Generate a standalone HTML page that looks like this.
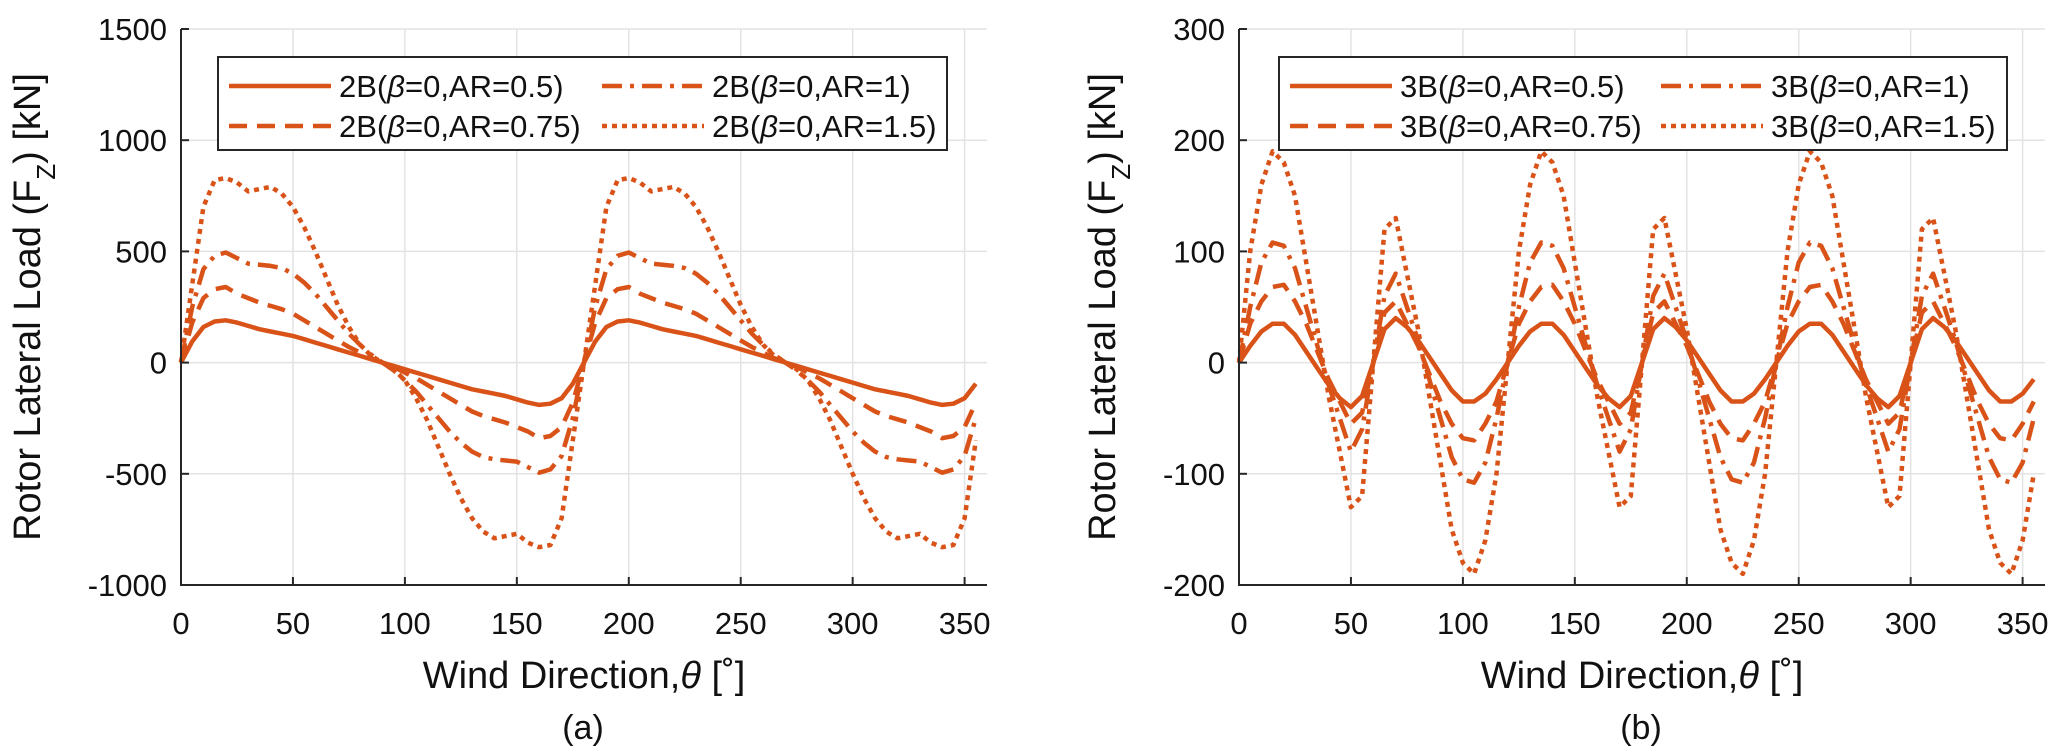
<!DOCTYPE html>
<html><head><meta charset="utf-8"><style>
html,body{margin:0;padding:0;background:#fff}
svg{display:block;font-family:"Liberation Sans",Arial,sans-serif}
</style></head><body>
<svg id="fig" width="2067" height="756" viewBox="0 0 2067 756" xmlns="http://www.w3.org/2000/svg"></svg>
<script>
const xTicks=[0,50,100,150,200,250,300,350];
const angles=[0,5,10,15,20,25,30,35,40,45,50,55,60,65,70,75,80,85,90,95,100,105,110,115,120,125,130,135,140,145,150,155,160,165,170,175,180,185,190,195,200,205,210,215,220,225,230,235,240,245,250,255,260,265,270,275,280,285,290,295,300,305,310,315,320,325,330,335,340,345,350,355];
const yTicksA=[-1000,-500,0,500,1000,1500];
const yTicksB=[-200,-100,0,100,200,300];
const a05=[0,95,160,185,190,180,165,150,140,130,120,105,90,75,60,45,30,15,0,-15,-30,-45,-60,-75,-90,-105,-120,-130,-140,-150,-165,-180,-190,-185,-160,-95,0,95,160,185,190,180,165,150,140,130,120,105,90,75,60,45,30,15,0,-15,-30,-45,-60,-75,-90,-105,-120,-130,-140,-150,-165,-180,-190,-185,-160,-95];
const a075=[0,180,290,330,340,310,290,270,255,240,220,190,160,130,100,70,45,20,0,-20,-45,-70,-100,-130,-160,-190,-220,-240,-255,-270,-290,-310,-340,-330,-290,-180,0,180,290,330,340,310,290,270,255,240,220,190,160,130,100,70,45,20,0,-20,-45,-70,-100,-130,-160,-190,-220,-240,-255,-270,-290,-310,-340,-330,-290,-180];
const a1=[0,250,420,480,495,470,445,440,435,425,400,360,310,250,190,130,80,35,0,-35,-80,-130,-190,-250,-310,-360,-400,-425,-435,-440,-445,-470,-495,-480,-420,-250,0,250,420,480,495,470,445,440,435,425,400,360,310,250,190,130,80,35,0,-35,-80,-130,-190,-250,-310,-360,-400,-425,-435,-440,-445,-470,-495,-480,-420,-250];
const a15=[0,350,700,820,830,810,770,780,790,760,700,610,500,380,260,160,80,30,0,-30,-80,-160,-260,-380,-500,-610,-700,-760,-790,-780,-770,-810,-830,-820,-700,-350,0,350,700,820,830,810,770,780,790,760,700,610,500,380,260,160,80,30,0,-30,-80,-160,-260,-380,-500,-610,-700,-760,-790,-780,-770,-810,-830,-820,-700,-350];
const b05=[0,15,28,35,35,25,10,-5,-20,-32,-40,-30,0,30,40,32,20,5,-10,-25,-35,-35,-28,-15,0,15,28,35,35,25,10,-5,-20,-32,-40,-30,0,30,40,32,20,5,-10,-25,-35,-35,-28,-15,0,15,28,35,35,25,10,-5,-20,-32,-40,-30,0,30,40,32,20,5,-10,-25,-35,-35,-28,-15];
const b075=[0,35,55,68,70,55,35,10,-15,-35,-55,-45,0,45,55,35,15,-10,-35,-55,-68,-70,-55,-35,0,35,55,68,70,55,35,10,-15,-35,-55,-45,0,45,55,35,15,-10,-35,-55,-68,-70,-55,-35,0,35,55,68,70,55,35,10,-15,-35,-55,-45,0,45,55,35,15,-10,-35,-55,-68,-70,-55,-35];
const b1=[0,50,90,108,105,85,50,15,-20,-50,-80,-60,0,60,80,50,20,-15,-50,-85,-105,-108,-90,-50,0,50,90,108,105,85,50,15,-20,-50,-80,-60,0,60,80,50,20,-15,-50,-85,-105,-108,-90,-50,0,50,90,108,105,85,50,15,-20,-50,-80,-60,0,60,80,50,20,-15,-50,-85,-105,-108,-90,-50];
const b15=[0,100,160,190,180,150,90,30,-30,-80,-130,-120,0,120,130,80,30,-30,-90,-150,-180,-190,-160,-100,0,100,160,190,180,150,90,30,-30,-80,-130,-120,0,120,130,80,30,-30,-90,-150,-180,-190,-160,-100,0,100,160,190,180,150,90,30,-30,-80,-130,-120,0,120,130,80,30,-30,-90,-150,-180,-190,-160,-100];
const prefA="2B", prefB="3B";
const arLabels=["0.5","0.75","1","1.5"];

const NS="http://www.w3.org/2000/svg";
const svg=document.getElementById('fig');
const C="#D95319";
const DASH=["", "18,10", "20,8,4,8", "5,5"];
function mk(tag,attrs,parent){const e=document.createElementNS(NS,tag);for(const k in attrs)e.setAttribute(k,attrs[k]);(parent||svg).appendChild(e);return e;}

function panel(p){
  const g=mk('g',{});
  
  
  const L=p.L,R=p.L+806,T=29,B=585;
  const xs=v=>L+(v-0)/360*(R-L);
  const ys=v=>B-(v-p.ymin)/(p.ymax-p.ymin)*(B-T);
  xTicks.forEach(t=>{const l=mk('line',{x1:xs(t),x2:xs(t),y1:T,y2:B,stroke:'#e3e3e3','stroke-width':1.5},g);
    });
  p.yt.forEach(t=>{const l=mk('line',{x1:L,x2:R,y1:ys(t),y2:ys(t),stroke:'#e3e3e3','stroke-width':1.5},g);
    });
  p.series.forEach((s,i)=>{
    const d=angles.map((a,j)=>(j?'L':'M')+xs(a).toFixed(1)+','+ys(s[j]).toFixed(1)).join('');
    const pa=mk('path',{d:d,fill:'none',stroke:C,'stroke-width':4.5,'stroke-linejoin':'round','stroke-dasharray':DASH[i]||'none'},g);
    
    
  });
  const ax=mk('path',{d:`M${L},${T}L${L},${B}L${R},${B}`,fill:'none',stroke:'#262626','stroke-width':2},g);
  
  xTicks.forEach(t=>{
    mk('line',{x1:xs(t),x2:xs(t),y1:B,y2:B-8,stroke:'#262626','stroke-width':2},g);
    const tx=mk('text',{x:xs(t),y:634,'text-anchor':'middle','font-size':31,fill:'#111'},g);
    tx.textContent=t;
  });
  p.yt.forEach(t=>{
    mk('line',{x1:L,x2:L+8,y1:ys(t),y2:ys(t),stroke:'#262626','stroke-width':2},g);
    const tx=mk('text',{x:L-14,y:ys(t)+11,'text-anchor':'end','font-size':31,fill:'#111'},g);
    tx.textContent=t;
  });
  const xl=mk('text',{x:(L+R)/2,y:688,'text-anchor':'middle','font-size':38,fill:'#111'},g);
  xl.innerHTML='Wind Direction,<tspan font-style="italic">\u03B8</tspan> [\u02DA]';
  
  const yl=mk('text',{x:0,y:0,'text-anchor':'middle','font-size':38,fill:'#111',transform:`translate(${p.ylx},307) rotate(-90)`},g);
  yl.innerHTML='Rotor Lateral Load (F<tspan baseline-shift="sub" font-size="26">Z</tspan>) [kN]';
  
  const cap=mk('text',{x:p.capx,y:739,'text-anchor':'middle','font-size':34,fill:'#111'},g);
  cap.textContent=p.cap;
  const lg=mk('g',{},g);
  
  mk('rect',{x:p.lg[0],y:57,width:p.lg[1]-p.lg[0],height:93,fill:'#fff',stroke:'#262626','stroke-width':2},lg);
  arLabels.forEach((ar,i)=>{
    const col=i<2?0:1,row=i%2;
    const x0=p.lgc[col], yy=row?126:86;
    const ln=mk('line',{x1:x0,x2:x0+102,y1:yy,y2:yy,stroke:C,'stroke-width':4.5,'stroke-dasharray':DASH[i]||'none'},lg);
    
    const t=mk('text',{x:x0+110,y:yy+11,'font-size':31,fill:'#111'},lg);
    t.innerHTML=p.pref+'(<tspan font-style="italic">\u03B2</tspan>=0,AR='+ar+')';
    
  });
}
panel({name:'panel-a',L:181,ymin:-1000,ymax:1500,yt:yTicksA,series:[a05,a075,a1,a15],keys:['ar05','ar075','ar1','ar15'],
  pref:prefA,lg:[218,947],lgc:[229,602],ylx:40,capx:583,cap:'(a)'});
panel({name:'panel-b',L:1239,ymin:-200,ymax:300,yt:yTicksB,series:[b05,b075,b1,b15],keys:['ar05','ar075','ar1','ar15'],
  pref:prefB,lg:[1279,2007],lgc:[1290,1661],ylx:1115,capx:1641,cap:'(b)'});
</script>
</body></html>
